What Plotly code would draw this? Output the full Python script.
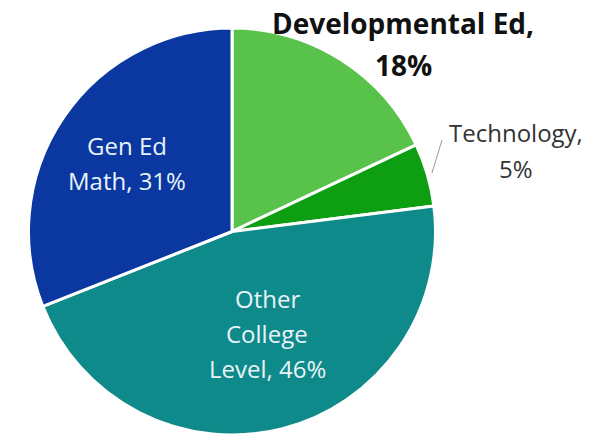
import plotly.graph_objects as go

# Share of enrollment by course area
categories = ["Developmental Ed", "Technology", "Other College Level", "Gen Ed Math"]
shares = [18, 5, 46, 31]
colors = ["#58C24B", "#0E9E12", "#0F8A8A", "#0A37A0"]

W, H = 602, 441


def px(x):
    return x / W


def py(y):
    return 1 - y / H


fig = go.Figure(
    go.Pie(
        labels=categories,
        values=shares,
        sort=False,
        direction="clockwise",
        rotation=0,
        marker=dict(colors=colors, line=dict(color="white", width=3)),
        textinfo="none",
        hoverinfo="label+percent",
        showlegend=False,
        domain=dict(x=[px(232 - 203.5), px(232 + 203.5)], y=[py(435), py(28)]),
    )
)

inside_color = "#E8F3F8"
font_family = "Open Sans"

# Label lines for each slice: (lines, center x, first-line y, line gap, size, color, bold)
label_specs = {
    "Developmental Ed": ([f"{categories[0]},", f"{shares[0]}%"], 403, 23, 42, 28, "#111111", True),
    "Technology": ([f"{categories[1]},", f"{shares[1]}%"], 516, 132, 36, 24, "#333333", False),
    "Other College Level": (["Other", "College", f"Level, {shares[2]}%"], 267, 298, 35, 24, inside_color, False),
    "Gen Ed Math": (["Gen Ed", f"Math, {shares[3]}%"], 127, 145, 36, 24, inside_color, False),
}

annotations = []
for name, (lines, cx, y0, gap, size, color, bold) in label_specs.items():
    for i, line in enumerate(lines):
        text = f"<b>{line}</b>" if bold else line
        annotations.append(
            dict(
                x=px(cx), y=py(y0 + i * gap), xref="paper", yref="paper",
                text=text, showarrow=False, xanchor="center", yanchor="middle",
                font=dict(family=font_family, size=size, color=color),
            )
        )

fig.update_layout(
    width=W, height=H,
    margin=dict(l=0, r=0, t=0, b=0),
    paper_bgcolor="white",
    plot_bgcolor="white",
    annotations=annotations,
    shapes=[
        # leader line for the Technology label
        dict(type="line", xref="paper", yref="paper",
             x0=px(442), y0=py(140), x1=px(432), y1=py(173),
             line=dict(color="#9A9A9A", width=1)),
    ],
)

fig.write_html("out.html")
